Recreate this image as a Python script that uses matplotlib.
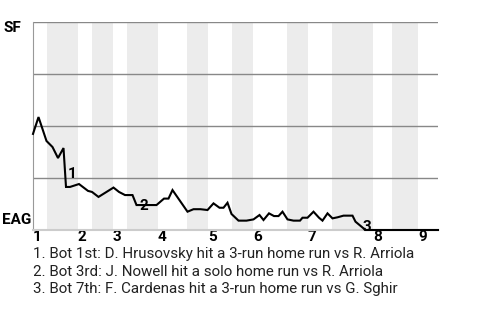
import numpy as np
import matplotlib
matplotlib.use("Agg")
import matplotlib.pyplot as plt

plt.rcParams['font.family'] = ['Roboto', 'DejaVu Sans']

# win probability for SF (%) at each event, x in plate-appearance units
event_x = [0, 1.1, 2.7, 3.9, 5.0, 6.1, 6.6, 7.4, 9.2, 11.0, 11.8, 13.1, 16.1, 17.2,
           18.4, 19.9, 20.7, 24.7, 26.2, 27.1, 27.9, 30.9, 32.1, 33.5, 34.9, 36.1,
           37.3, 38.1, 38.9, 39.7, 41.1, 42.7, 44.1, 45.3, 46.1, 47.2, 48.2, 49.1,
           49.9, 50.9, 52.1, 53.4, 53.9, 54.9, 56.1, 57.2, 57.9, 58.9, 59.9, 60.9,
           62.1, 63.9, 64.5, 66.1, 66.4, 81.0]
sf_wp = [46.2, 54.3, 42.8, 39.9, 34.6, 39.4, 20.7, 20.7, 22.1, 18.8, 18.3, 15.9,
         20.4, 18.3, 16.8, 16.8, 12.0, 12.0, 15.1, 15.1, 19.2, 8.8, 10.0, 10.0,
         9.6, 12.8, 10.7, 10.7, 13.1, 7.7, 4.5, 4.5, 5.1, 7.2, 4.8, 8.0, 6.7, 6.7,
         8.8, 5.1, 4.5, 4.5, 5.9, 5.9, 8.8, 5.9, 4.5, 8.0, 5.6, 6.1, 6.9, 6.9,
         4.0, 0.8, 0.0, 0.0]

inning_start = [0, 9.0, 16.0, 25.0, 35.0, 44.0, 55.0, 68.0, 77.0]
bottom_start = [2.8, 11.8, 18.8, 30.8, 39.8, 50.8, 59.8, 71.8]
game_end = 81.0
inning_labels = ['1', '2', '3', '4', '5', '6', '7', '8', '9']

# scoring plays: index into the series, label
hr_idx = [6, 16, 54]
hr_text = [
    "1. Bot 1st: D. Hrusovsky hit a 3-run home run vs R. Arriola",
    "2. Bot 3rd: J. Nowell hit a solo home run vs R. Arriola",
    "3. Bot 7th: F. Cardenas hit a 3-run home run vs G. Sghir",
]
hr_offset = [(1.5, 9), (2, -1), (-2, 2.5)]

fig = plt.figure(figsize=(4.8, 3.2), dpi=100)
ax = fig.add_axes([33/480, 90/320, 405/480, 208/320])

# shade bottom halves
for i, b in enumerate(bottom_start):
    end = inning_start[i + 1] if i + 1 < len(inning_start) else game_end
    ax.axvspan(b, end, color='#ececec', lw=0, zorder=0)

for yv in [25, 50, 75, 100]:
    ax.axhline(yv, color='#888888', lw=1, zorder=1)

ax.plot(event_x, sf_wp, color='black', lw=1.5, zorder=3,
        solid_joinstyle='miter', clip_on=False)

for n, (i, off) in enumerate(zip(hr_idx, hr_offset)):
    ax.annotate(str(n + 1), (event_x[i], sf_wp[i]), xytext=off,
                textcoords='offset points', fontsize=11, fontweight='bold',
                ha='left', va='center', zorder=4)

ax.set_xlim(0, game_end)
ax.set_ylim(0, 100)
ax.set_yticks([])
ax.set_xticks(inning_start)
ax.set_xticklabels(inning_labels, fontweight='bold', fontsize=11, ha='left')
ax.tick_params(axis='x', length=0, pad=0)
for s in ['top', 'right']:
    ax.spines[s].set_visible(False)
ax.spines['left'].set_color('#999999')
ax.spines['bottom'].set_color('#cccccc')
ax.spines['bottom'].set_linewidth(1.5)

fig.text(3/480, 1 - 28/320, 'SF', fontsize=11, fontweight='bold', va='center')
fig.text(2/480, 1 - 220/320, 'EAG', fontsize=11, fontweight='bold', va='center')

for k, t in enumerate(hr_text):
    fig.text(33/480, 1 - (254 + 17.5*k)/320, t, fontsize=10.9, color='#222222', va='center')

fig.savefig('out.png', dpi=100)
